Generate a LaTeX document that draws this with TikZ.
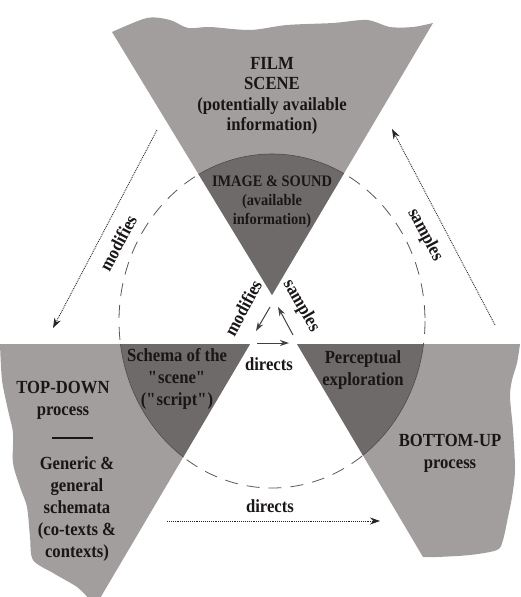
\documentclass[tikz,border=0pt]{standalone}
\usepackage{fontspec}
\setmainfont[FakeStretch=0.9]{Liberation Serif}
\usepackage{xcolor}
\usepackage{tikz}
\usetikzlibrary{arrows.meta}
\definecolor{lightgrey}{HTML}{A29E9D}
\definecolor{darkgrey}{HTML}{6E6A69}
\definecolor{inkish}{HTML}{1A1616}

\begin{document}
\begin{tikzpicture}[
   x=1pt, y=-1pt,
   every node/.append style={align=center, text=inkish, inner sep=0pt,
     font=\bfseries\fontsize{18.5}{22}\selectfont},
   top text/.style={font=\bfseries\fontsize{18.5}{20.5}\selectfont},
   small text/.style={font=\bfseries\fontsize{16}{19}\selectfont},
   dotted arrow/.style={densely dotted, line width=0.9pt, draw=black!85,
     -{Stealth[length=10pt,width=7pt]}},
   solid arrow/.style={line width=1pt, draw=black!75,
     -{Stealth[length=9pt,width=6pt]}},
   circle line/.style={dash pattern=on 13pt off 9pt, line width=0.8pt, draw=black!65}
]
\useasboundingbox (0,0) rectangle (520,597);

% dashed circle
\draw[circle line] (272,321) ellipse [x radius=153, y radius=167];

% the three sectors
\fill[lightgrey, save path=\toppath] (272,295) -- (112,32)
  -- plot[smooth] coordinates {(112,32) (147,18) (170,20) (188,28) (210,27)
     (250,30) (287,25) (333,23) (367,20) (390,27) (413,27) (433,23)} -- cycle;
\fill[lightgrey, save path=\leftpath] (250,344) -- (0,344)
  -- plot[smooth] coordinates {(0,344) (2,380) (8,410) (13,433) (13,463) (20,487)
     (27,507) (30,537) (33,560) (53,573) (77,587) (90,600)} -- (99,600) -- cycle;
\fill[lightgrey, save path=\rightpath] (297,344) -- (520,344)
  -- plot[smooth] coordinates {(520,344) (517,363) (512,380) (510,397) (513,430)
     (515,470) (512,497) (508,517) (503,540) (497,550) (470,555) (437,557)
     (423,557)} -- cycle;

\foreach \sector in {\toppath,\leftpath,\rightpath}{
  \begin{scope}
    \clip[use path=\sector];
    \filldraw[fill=darkgrey, draw=black!70, line width=0.6pt]
      (272,321) ellipse [x radius=153, y radius=167];
  \end{scope}
}

% texts
\node[top text] (film) at (272,96) {FILM\\SCENE\\(potentially available\\information)};
\node[small text] (image) at (272,202) {IMAGE \& SOUND\\(available\\information)};
\node (schema) at (177,379) {Schema of the\\\textquotedbl scene\textquotedbl\\(\textquotedbl script\textquotedbl)};
\node (percept) at (363,370) {Perceptual\\exploration};
\node (topdown) at (63,400) {TOP-DOWN\\process};
\node (rule) at (72,438) {\rule{41pt}{1.2pt}};
\node (generic) at (77,509) {Generic \&\\general\\schemata\\(co-texts \&\\contexts)};
\node (bottomup) at (450,453) {BOTTOM-UP\\process};

% arrows
\coordinate (modfrom) at (157,130);
\coordinate (modto) at (53,328);
\coordinate (samfrom) at (495,325);
\coordinate (samto) at (392,129);
\coordinate (dirfrom) at (167,521);
\coordinate (dirto) at (380,521);
\draw[dotted arrow] (modfrom) -- (modto);
\draw[dotted arrow] (samfrom) -- (samto);
\draw[dotted arrow] (dirfrom) -- (dirto);
\node[rotate=62] (modlabel) at (118,243) {modifies};
\node[rotate=-62] (samlabel) at (425,235) {samples};
\node (dirlabel) at (270,506) {directs};

\coordinate (cmodfrom) at (270,307);
\coordinate (cmodto) at (256,331);
\coordinate (csamfrom) at (293,335);
\coordinate (csamto) at (278,307);
\coordinate (cdirfrom) at (257,343);
\coordinate (cdirto) at (289,343);
\draw[solid arrow] (cmodfrom) -- (cmodto);
\draw[solid arrow] (csamfrom) -- (csamto);
\draw[solid arrow] (cdirfrom) -- (cdirto);
\node[rotate=62] (cmodlabel) at (243,308) {modifies};
\node[rotate=-60] (csamlabel) at (301,306) {samples};
\node (cdirlabel) at (269,364) {directs};
\end{tikzpicture}
\end{document}
